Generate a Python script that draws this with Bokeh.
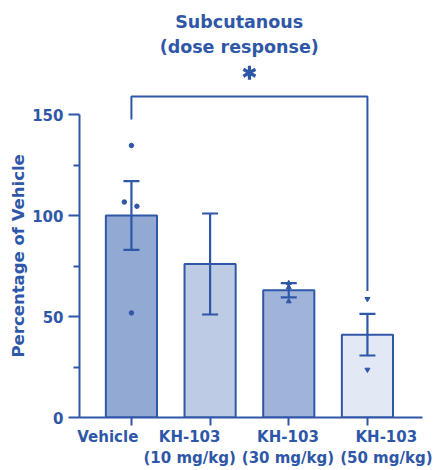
import math
from bokeh.plotting import figure
from bokeh.models import (ColumnDataSource, Range1d, FixedTicker, Whisker, TeeHead, Label, Title)
from bokeh.embed import file_html
from bokeh.resources import INLINE

# Group labels and summary statistics (percentage of vehicle)
group_labels = ["Vehicle", "KH-103\n(10 mg/kg)", "KH-103\n(30 mg/kg)", "KH-103\n(50 mg/kg)"]
means = [100, 76, 63, 41]
sems = [17, 25, 3.5, 10.3]
fills = ["#91a9d3", "#bdcbe5", "#a0b3d9", "#e2e8f4"]

# Individual animals
vehicle_pts = [134.7, 106.7, 104.6, 51.8]
vehicle_dx = [0.0, -0.09, 0.07, 0.0]
kh30_pts = [66.5, 64.5, 57.5]
kh50_pts = [58.7, 23.7]

# Significance bracket between vehicle and 50 mg/kg
bracket_top = 159
bracket_left_end = 147.5
bracket_right_end = 62.6

BLUE = "#2f57a7"
FONT = "DejaVu Sans"

xs = list(range(len(means)))

p = figure(width=439, height=470, output_backend="svg", toolbar_location=None,
           x_range=Range1d(-0.66, 3.70), y_range=Range1d(0, 204),
           min_border_left=79, min_border_right=17, min_border_top=5, min_border_bottom=51)
p.outline_line_color = None
p.grid.grid_line_color = None
p.background_fill_color = "white"

src = ColumnDataSource(dict(x=xs, top=means, fill=fills,
                            upper=[m + s for m, s in zip(means, sems)],
                            lower=[m - s for m, s in zip(means, sems)]))
p.vbar(x="x", top="top", bottom=0, width=0.65, fill_color="fill",
       line_color=BLUE, line_width=2, source=src)

p.add_layout(Whisker(source=src, base="x", upper="upper", lower="lower",
                     level="overlay", line_color=BLUE, line_width=2.2,
                     upper_head=TeeHead(size=16, line_color=BLUE, line_width=2.2),
                     lower_head=TeeHead(size=16, line_color=BLUE, line_width=2.2)))

p.scatter([xs[0] + d for d in vehicle_dx], vehicle_pts, marker="circle", size=4.5,
          color=BLUE)
p.scatter([xs[2]] * len(kh30_pts), kh30_pts, marker="triangle", size=5, color=BLUE)
p.scatter([xs[3]] * len(kh50_pts), kh50_pts, marker="inverted_triangle", size=5, color=BLUE)

# Bracket and six-spoked asterisk
p.line([xs[0], xs[0], xs[3], xs[3]],
       [bracket_left_end, bracket_top, bracket_top, bracket_right_end],
       line_color=BLUE, line_width=2)
star_x = (xs[0] + xs[3]) / 2
p.scatter([star_x] * 3, [170.7] * 3, marker="dash", size=14,
          angle=[math.pi / 2, math.pi / 6, 5 * math.pi / 6],
          line_color=BLUE, line_width=3.2)

# Title lines
for txt, yy in [("Subcutanous", 196), ("(dose response)", 183.5)]:
    p.add_layout(Label(x=1.37, y=yy, text=txt, text_align="center", text_baseline="middle",
                       text_font=FONT, text_font_style="bold", text_font_size="17.5px",
                       text_color=BLUE))

# Y axis title, placed along the 0-150 span rather than the whole frame
p.add_layout(Title(text="Percentage of Vehicle", align="left", offset=60,
                   text_font=FONT, text_font_style="bold", text_font_size="16.5px",
                   text_color=BLUE, standoff=4), "left")

# Axes
p.yaxis.bounds = (0, 150)
p.yaxis.ticker = FixedTicker(ticks=[0, 50, 100, 150], minor_ticks=[25, 75, 125])
p.yaxis.major_tick_out = 11
p.yaxis.major_tick_in = 0
p.yaxis.minor_tick_out = 6
p.yaxis.minor_tick_in = 0
p.yaxis.major_label_standoff = 5
p.yaxis.minor_tick_line_color = BLUE
p.yaxis.minor_tick_line_width = 2
p.yaxis.major_tick_line_color = BLUE
p.yaxis.major_tick_line_width = 2

# Category tick marks sit at the bar centres (drawn as minor ticks); the wide
# labels are placed at slightly spread positions so neighbours do not collide.
label_pos = [-0.30, 0.74, 1.99, 3.24]
p.xaxis.ticker = FixedTicker(ticks=label_pos, minor_ticks=xs)
p.xaxis.major_label_overrides = {pos: lab for pos, lab in zip(label_pos, group_labels)}
p.xaxis.major_tick_line_color = None
p.xaxis.major_tick_out = 8
p.xaxis.major_tick_in = 0
p.xaxis.minor_tick_out = 8
p.xaxis.minor_tick_in = 0
p.xaxis.minor_tick_line_color = BLUE
p.xaxis.minor_tick_line_width = 2
p.xaxis.major_label_standoff = 2
p.xaxis.major_label_text_align = "center"

for ax in (p.xaxis, p.yaxis):
    ax.axis_line_color = BLUE
    ax.axis_line_width = 2
    ax.major_label_text_font = FONT
    ax.major_label_text_font_style = "bold"
    ax.major_label_text_font_size = "15px"
    ax.major_label_text_color = BLUE

open("out.html", "w").write(file_html(p, INLINE))
